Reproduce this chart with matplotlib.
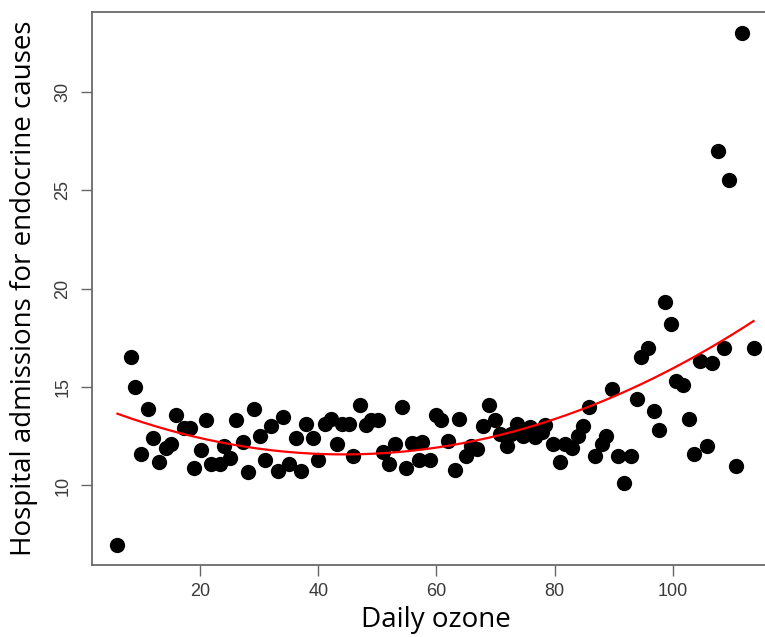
import numpy as np
import matplotlib
matplotlib.use('Agg')
import matplotlib.pyplot as plt

# daily ozone vs hospital admissions
ozone = [6.0, 8.3, 9.0, 10.0, 11.1, 12.1, 13.1, 14.2, 15.1, 15.9, 17.2, 18.3, 19.0,
         20.2, 21.0, 21.9, 23.3, 24.1, 25.0, 26.1, 27.2, 28.1, 29.2, 30.1, 30.9,
         32.0, 33.2, 34.0, 35.1, 36.2, 37.0, 38.0, 39.1, 39.9, 41.1, 42.2, 43.1,
         44.1, 45.2, 45.9, 47.0, 48.1, 49.0, 50.1, 51.0, 52.0, 53.0, 54.1, 54.9,
         55.8, 57.1, 57.5, 58.9, 60.0, 60.8, 62.0, 63.1, 63.8, 65.0, 65.9, 66.9,
         67.9, 68.9, 69.9, 70.7, 71.9, 72.7, 73.6, 74.7, 75.8, 76.7, 77.8, 78.4,
         79.8, 80.9, 81.8, 82.9, 84.0, 84.9, 85.8, 86.8, 88.0, 88.8, 89.8, 90.8,
         91.7, 92.9, 93.9, 94.7, 95.8, 96.8, 97.7, 98.7, 99.8, 100.5, 101.8, 102.8,
         103.6, 104.6, 105.8, 106.6, 107.6, 108.7, 109.5, 110.7, 111.7, 113.7]
admissions = [7.0, 16.5, 15.0, 11.6, 13.9, 12.4, 11.2, 11.9, 12.1, 13.6, 12.9, 12.9, 10.9,
              11.8, 13.3, 11.1, 11.1, 12.0, 11.4, 13.3, 12.2, 10.7, 13.9, 12.5, 11.3,
              13.0, 10.75, 13.5, 11.1, 12.4, 10.75, 13.1, 12.4, 11.3, 13.1, 13.4, 12.1,
              13.1, 13.1, 11.5, 14.1, 13.05, 13.3, 13.3, 11.7, 11.1, 12.1, 14.0, 10.9,
              12.15, 11.3, 12.2, 11.3, 13.6, 13.3, 12.25, 10.8, 13.4, 11.5, 12.0, 11.85,
              13.0, 14.1, 13.3, 12.6, 12.0, 12.6, 13.1, 12.5, 12.95, 12.45, 12.7, 13.05,
              12.1, 11.2, 12.1, 11.9, 12.5, 13.0, 14.0, 11.5, 12.1, 12.5, 14.9, 11.5,
              10.1, 11.5, 14.4, 16.5, 17.0, 13.8, 12.8, 19.3, 18.2, 15.3, 15.1, 13.4,
              11.6, 16.3, 12.0, 16.2, 27.0, 17.0, 25.5, 11.0, 33.0, 17.0]
xticks = [20, 40, 60, 80, 100]
yticks = [10, 15, 20, 25, 30]

x = np.array(ozone)
y = np.array(admissions)

fig = plt.figure(figsize=(7.65, 6.37), dpi=100)
# right edge of the box runs past the image, like the cropped original
ax = fig.add_axes([0.1203, 0.113, 0.898, 0.868])

ax.plot(x, y, 'o', color='black', markersize=11, markeredgewidth=0)

# quadratic fit line
coef = np.polyfit(x, y, 2)
xs = np.linspace(x.min(), x.max(), 200)
ax.plot(xs, np.polyval(coef, xs), color='red', lw=1.6)

ax.margins(0.04)
ax.set_xticks(xticks)
ax.set_yticks(yticks)
ax.tick_params(direction='out', length=8, width=1, color='#666666',
               labelsize=13, labelcolor='#3a3a3a')
ax.tick_params(axis='x', pad=5)
ax.tick_params(axis='y', pad=7)
for lab in ax.get_xticklabels() + ax.get_yticklabels():
    lab.set_family('Liberation Sans')
for lab in ax.get_yticklabels():
    lab.set_rotation(90)
    lab.set_va('center')
for s in ax.spines.values():
    s.set_color('#6a6a6a')
    s.set_linewidth(1.3)

ax.set_xlabel('Daily ozone', fontsize=20, family='Open Sans')
ax.set_ylabel('Hospital admissions for endocrine causes', fontsize=20,
              family='Open Sans')
ax.xaxis.set_label_coords(0.5, -0.075)
ax.yaxis.set_label_coords(-0.0786, 0.5)

plt.savefig('out.png', dpi=100)
